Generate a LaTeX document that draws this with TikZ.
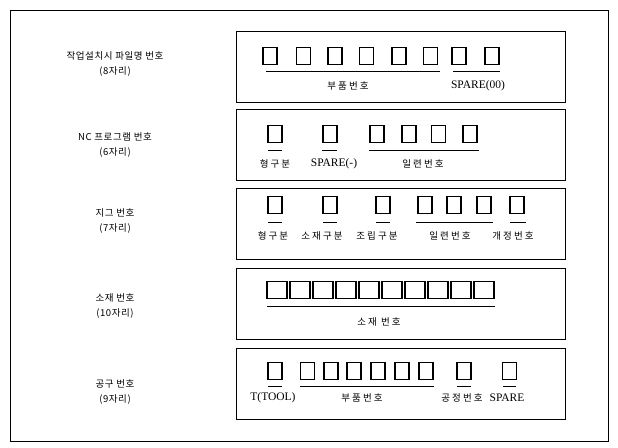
\documentclass[tikz,border=0pt]{standalone}
\usepackage{fontspec}
\setmainfont{Liberation Serif}
\newfontfamily\kr{Noto Sans CJK KR}
\newfontfamily\krw[LetterSpace=22]{Noto Sans CJK KR}
\newfontfamily\krr[LetterSpace=6]{Noto Sans CJK KR}
\begin{document}
\begin{tikzpicture}[x=1pt,y=-1pt,
  panel/.style={draw,line width=1pt,inner sep=0,anchor=north west,minimum width=329pt,minimum height=71pt},
  sq/.style={draw,line width=1.4pt,minimum width=14pt,minimum height=17pt,inner sep=0},
  wsq/.style={sq,minimum width=20pt,minimum height=17pt},
  uline/.style={line width=1pt},
  lab/.style={font=\krw\fontsize{9.5}{10}\selectfont,inner sep=0},
  elab/.style={font=\fontsize{11.5}{12}\selectfont,inner sep=0},
  rowlab/.style={font=\krr\fontsize{9.5}{15}\selectfont,align=center,inner sep=0}]
\useasboundingbox (0,0) rectangle (618,447);
\fill[white] (0,0) rectangle (618,447);
\node[draw,line width=1pt,minimum width=598pt,minimum height=431pt,anchor=north west,inner sep=0] (frame) at (10,10) {};

% panels
\node[panel] (p1) at (236,31) {};
\node[panel] (p2) at (236,109) {};
\node[panel] (p3) at (236,188) {};
\node[panel] (p4) at (236,268) {};
\node[panel] (p5) at (236,348) {};

% row labels
\node[rowlab] (r1) at (115,64) {작업설치시 파일명 번호\\(8자리)};
\node[rowlab] (r2) at (115,145) {NC 프로그램 번호\\(6자리)};
\node[rowlab] (r3) at (115,221) {지그 번호\\(7자리)};
\node[rowlab] (r4) at (115,306) {소재 번호\\(10자리)};
\node[rowlab] (r5) at (115,392) {공구 번호\\(9자리)};

% row 1
\foreach \x [count=\i] in {270,303.5,335,366.5,399,430.5,459,492}
  \node[sq] (a\i) at (\x,56) {};
\coordinate (a1l) at (266,71); \coordinate (a1r) at (440,71);
\coordinate (a2l) at (453,71); \coordinate (a2r) at (500,71);
\draw[uline] (a1l) -- (a1r);
\draw[uline] (a2l) -- (a2r);
\node[lab] (la1) at (348,86) {부품번호};
\node[elab] (la2) at (478,86) {SPARE(00)};

% row 2
\foreach \x [count=\i] in {275,330,377,409,438.5,470}
  \node[sq] (b\i) at (\x,134) {};
\coordinate (b1l) at (268,150); \coordinate (b1r) at (282,150);
\coordinate (b2l) at (322,150); \coordinate (b2r) at (337,150);
\coordinate (b3l) at (369,150); \coordinate (b3r) at (479,150);
\draw[uline] (b1l) -- (b1r);
\draw[uline] (b2l) -- (b2r);
\draw[uline] (b3l) -- (b3r);
\node[lab] (lb1) at (275,164) {형구분};
\node[elab] (lb2) at (334,164) {SPARE(-)};
\node[lab] (lb3) at (423,164) {일련번호};

% row 3
\foreach \x [count=\i] in {275,330,383,425,454,484,517}
  \node[sq] (c\i) at (\x,205) {};
\coordinate (c1l) at (268,222); \coordinate (c1r) at (282,222);
\coordinate (c2l) at (323,222); \coordinate (c2r) at (337,222);
\coordinate (c3l) at (376,222); \coordinate (c3r) at (390,222);
\coordinate (c4l) at (416,222); \coordinate (c4r) at (493,222);
\coordinate (c5l) at (510,222); \coordinate (c5r) at (526,222);
\foreach \k in {1,...,5} \draw[uline] (c\k l) -- (c\k r);
\node[lab] (lc1) at (273,236) {형구분};
\node[lab] (lc2) at (322,236) {소재구분};
\node[lab] (lc3) at (377,236) {조립구분};
\node[lab] (lc4) at (450,236) {일련번호};
\node[lab] (lc5) at (513,236) {개정번호};

% row 4
\foreach \k [count=\i] in {0,...,9}
  \node[wsq] (d\i) at (277+23*\k,290) {};
\coordinate (d1l) at (267,306); \coordinate (d1r) at (495,306);
\draw[uline] (d1l) -- (d1r);
\node[lab] (ld1) at (379,322) {소재 번호};

% row 5
\foreach \x [count=\i] in {275,307.5,331,354,378,402,426,464,509.5}
  \node[sq] (e\i) at (\x,371) {};
\coordinate (e1l) at (268,386); \coordinate (e1r) at (282,386);
\coordinate (e2l) at (300,386); \coordinate (e2r) at (434,386);
\coordinate (e3l) at (457,386); \coordinate (e3r) at (471,386);
\coordinate (e4l) at (503,386); \coordinate (e4r) at (516,386);
\foreach \k in {1,...,4} \draw[uline] (e\k l) -- (e\k r);
\node[elab] (le1) at (273,398) {T(TOOL)};
\node[lab] (le2) at (362,398) {부품번호};
\node[lab] (le3) at (462,398) {공정번호};
\node[elab] (le4) at (507,398) {SPARE};
\end{tikzpicture}
\end{document}
